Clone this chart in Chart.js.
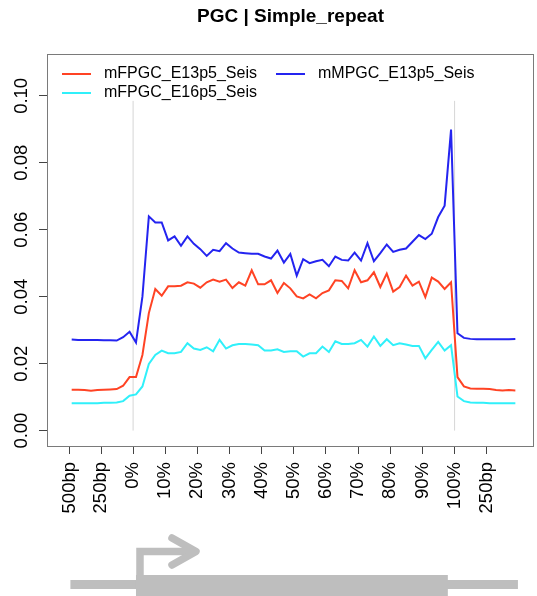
<!DOCTYPE html>
<html>
<head>
<meta charset="utf-8">
<script src="https://cdn.jsdelivr.net/npm/chart.js@4.4.1/dist/chart.umd.min.js"></script>
<style>
  html, body { margin: 0; padding: 0; background: #fff; }
</style>
</head>
<body>
<canvas id="profile" width="537" height="596"></canvas>
<script>
const chartTitle = 'PGC | Simple_repeat';
const seriesNames = ['mFPGC_E13p5_Seis', 'mFPGC_E16p5_Seis', 'mMPGC_E13p5_Seis'];
const seriesColors = ['#ff4324', '#30f0fa', '#2424f0'];

// 10 bins upstream, 50 bins over the body, 10 bins downstream
const mFPGC_E13p5 = [
  0.0122, 0.0122, 0.0121, 0.0119, 0.0121, 0.0122, 0.0123, 0.0124, 0.0134, 0.0160,
  0.0160, 0.0226, 0.0351, 0.0423, 0.0403, 0.0431, 0.0431, 0.0433, 0.0443, 0.0439,
  0.0427, 0.0443, 0.0451, 0.0445, 0.0451, 0.0426, 0.0443, 0.0433, 0.0479, 0.0437,
  0.0437, 0.0449, 0.0411, 0.0441, 0.0425, 0.0401, 0.0395, 0.0407, 0.0395, 0.0411,
  0.0419, 0.0449, 0.0447, 0.0425, 0.0479, 0.0443, 0.0449, 0.0473, 0.0429, 0.0469,
  0.0415, 0.0429, 0.0463, 0.0433, 0.0445, 0.0399, 0.0457, 0.0445, 0.0423, 0.0443,
  0.0160, 0.0132, 0.0126, 0.0125, 0.0125, 0.0124, 0.0121, 0.0120, 0.0121, 0.0120
];
const mFPGC_E16p5 = [
  0.0082, 0.0082, 0.0082, 0.0082, 0.0082, 0.0083, 0.0083, 0.0084, 0.0088, 0.0104,
  0.0108, 0.0132, 0.0199, 0.0226, 0.0239, 0.0231, 0.0231, 0.0235, 0.0261, 0.0245,
  0.0241, 0.0249, 0.0237, 0.0271, 0.0245, 0.0255, 0.0259, 0.0259, 0.0257, 0.0255,
  0.0239, 0.0239, 0.0243, 0.0235, 0.0237, 0.0237, 0.0221, 0.0231, 0.0231, 0.0251,
  0.0235, 0.0267, 0.0259, 0.0259, 0.0261, 0.0271, 0.0251, 0.0281, 0.0253, 0.0273,
  0.0255, 0.0261, 0.0257, 0.0253, 0.0253, 0.0216, 0.0241, 0.0265, 0.0239, 0.0255,
  0.0102, 0.0088, 0.0084, 0.0083, 0.0083, 0.0082, 0.0082, 0.0082, 0.0082, 0.0082
];
const mMPGC_E13p5 = [
  0.0272, 0.0271, 0.0271, 0.0271, 0.0271, 0.0270, 0.0270, 0.0269, 0.0279, 0.0295,
  0.0263, 0.0400, 0.0640, 0.0622, 0.0622, 0.0568, 0.0580, 0.0552, 0.0580, 0.0558,
  0.0542, 0.0522, 0.0540, 0.0536, 0.0560, 0.0544, 0.0532, 0.0530, 0.0528, 0.0528,
  0.0520, 0.0514, 0.0538, 0.0502, 0.0528, 0.0463, 0.0512, 0.0500, 0.0506, 0.0510,
  0.0491, 0.0520, 0.0510, 0.0508, 0.0532, 0.0508, 0.0560, 0.0506, 0.0530, 0.0556,
  0.0534, 0.0540, 0.0544, 0.0564, 0.0584, 0.0572, 0.0588, 0.0638, 0.0672, 0.0899,
  0.0291, 0.0277, 0.0274, 0.0273, 0.0273, 0.0273, 0.0273, 0.0273, 0.0273, 0.0274
];

const xTickPositions = [-0.3, 4.6, 9.55, 14.55, 19.55, 24.55, 29.55, 34.55, 39.55, 44.55, 49.55, 54.55, 59.55, 64.5];
const xTickLabels = ['500bp', '250bp', '0%', '10%', '20%', '30%', '40%', '50%', '60%', '70%', '80%', '90%', '100%', '250bp'];
const yTickValues = [0, 0.02, 0.04, 0.06, 0.08, 0.10];
const markerPositions = [9.55, 59.55]; // TSS / TES guide lines

const FONT = '"Liberation Sans", Arial, Helvetica, sans-serif';
const GENE_GREY = '#bebebe';

const toPoints = arr => arr.map((v, i) => ({ x: i, y: v }));

const lineSets = [mFPGC_E13p5, mFPGC_E16p5, mMPGC_E13p5].map((arr, k) => ({
    label: seriesNames[k],
    data: toPoints(arr),
    borderColor: seriesColors[k],
    borderWidth: 2,
    pointRadius: 0,
    tension: 0,
    fill: false
}));

const guideSets = markerPositions.map(p => ({
    label: '',
    guide: true,
    data: [{ x: p, y: 0 }, { x: p, y: 0.0985 }],
    borderColor: '#d6d6d6',
    borderWidth: 1,
    pointRadius: 0
}));

// box, title, legend and the little gene model under the axis
const decorations = {
    id: 'decorations',
    afterDraw(chart) {
        const { ctx, chartArea: a, scales } = chart;
        const xs = scales.x;
        ctx.save();

        ctx.strokeStyle = '#7a7a7a';
        ctx.lineWidth = 1;
        ctx.strokeRect(a.left + 0.5, a.top + 0.5, a.right - a.left - 1, a.bottom - a.top);

        ctx.fillStyle = '#000';
        ctx.font = 'bold 19px ' + FONT;
        ctx.textAlign = 'center';
        ctx.textBaseline = 'middle';
        ctx.fillText(chartTitle, (a.left + a.right) / 2, 17);

        // legend, two columns like R's ncol = 2
        ctx.font = '16px ' + FONT;
        ctx.textAlign = 'left';
        const slots = [[62, 74], [62, 93], [276, 74]];
        lineSets.forEach((ds, k) => {
            const [lx, ly] = slots[k];
            ctx.strokeStyle = ds.borderColor;
            ctx.lineWidth = 2;
            ctx.beginPath();
            ctx.moveTo(lx, ly);
            ctx.lineTo(lx + 29, ly);
            ctx.stroke();
            ctx.fillStyle = '#000';
            ctx.fillText(ds.label, lx + 42, ly);
        });

        // gene model
        const x0 = xs.getPixelForValue(-0.2);
        const xEnd = xs.getPixelForValue(69.4);
        const gs = xs.getPixelForValue(10);
        const ge = xs.getPixelForValue(58.5);
        ctx.fillStyle = GENE_GREY;
        ctx.fillRect(x0, 580, xEnd - x0, 9);
        ctx.fillRect(gs, 575, ge - gs, 25);

        ctx.strokeStyle = GENE_GREY;
        ctx.lineWidth = 7.5;
        ctx.lineJoin = 'miter';
        ctx.lineCap = 'butt';
        ctx.beginPath();
        ctx.moveTo(gs + 4, 576);
        ctx.lineTo(gs + 4, 551.5);
        ctx.lineTo(gs + 58, 551.5);
        ctx.stroke();
        ctx.lineCap = 'round';
        ctx.lineJoin = 'round';
        ctx.beginPath();
        ctx.moveTo(gs + 36, 538);
        ctx.lineTo(gs + 60, 551.5);
        ctx.lineTo(gs + 36, 565);
        ctx.stroke();

        ctx.restore();
    }
};

new Chart(document.getElementById('profile'), {
    type: 'line',
    data: { datasets: [...lineSets, ...guideSets] },
    options: {
        responsive: false,
        animation: false,
        devicePixelRatio: 1,
        layout: { padding: { top: 54, right: 3, left: 0, bottom: 0 } },
        plugins: {
            legend: { display: false },
            title: { display: false },
            tooltip: { enabled: false }
        },
        scales: {
            x: {
                type: 'linear',
                min: -3.84,
                max: 71.9,
                afterBuildTicks: s => { s.ticks = xTickPositions.map(v => ({ value: v })); },
                afterFit: s => { s.height = 150; },
                border: { display: false },
                grid: { drawOnChartArea: false, drawTicks: true, tickLength: 8, color: '#444' },
                ticks: {
                    autoSkip: false,
                    minRotation: 90,
                    maxRotation: 90,
                    padding: 8,
                    color: '#000',
                    font: { family: FONT, size: 18.5 },
                    callback: (v, i) => xTickLabels[i]
                }
            },
            y: {
                min: -0.0046,
                max: 0.1125,
                afterBuildTicks: s => { s.ticks = yTickValues.map(v => ({ value: v })); },
                afterFit: s => { s.width = 47; },
                border: { display: false },
                grid: { drawOnChartArea: false, drawTicks: true, tickLength: 8, color: '#444' },
                ticks: {
                    minRotation: 90,
                    maxRotation: 90,
                    crossAlign: 'center',
                    padding: -1,
                    color: '#000',
                    font: { family: FONT, size: 18.5 },
                    callback: v => v.toFixed(2)
                }
            }
        }
    },
    plugins: [decorations]
});
</script>
</body>
</html>
